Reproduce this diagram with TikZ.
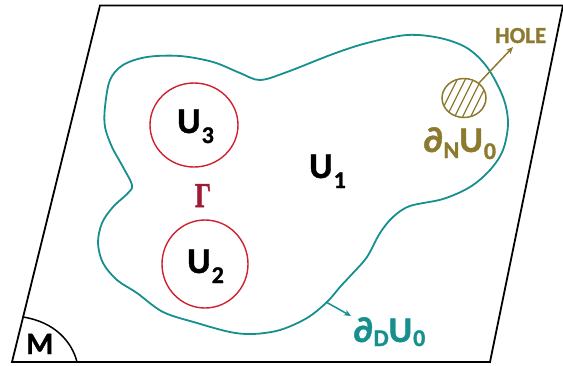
\documentclass[tikz,border=0pt]{standalone}
\usepackage{fontspec}
\setmainfont{Carlito}[BoldFeatures={FakeBold=1.2}]
\newfontfamily\gammafont{Liberation Serif}[BoldFeatures={FakeBold=1.5}]
\usetikzlibrary{arrows.meta,shapes.geometric}
\definecolor{tealc}{HTML}{16908F}
\definecolor{redc}{HTML}{D0202E}
\definecolor{goldc}{HTML}{8C7A2E}
\definecolor{gammac}{HTML}{9E1B32}
\newcommand{\mysub}[2][10pt]{\kern1pt\raisebox{-#1}{\fontsize{24}{24}\selectfont #2}}
\tikzset{
  lbl/.style={font=\fontsize{36}{36}\selectfont\bfseries, inner sep=0pt, anchor=base west},
  frame/.style={line width=1.8pt, line join=miter},
  region/.style={draw=redc, line width=1.4pt},
  boundary/.style={draw=tealc, line width=1.8pt},
  arr/.style={line width=1.5pt, -{Stealth[length=7pt,width=6pt]}},
}
\begin{document}
\begin{tikzpicture}[x=1pt,y=-1pt]
\useasboundingbox (0,0) rectangle (563,365);
% manifold frame
\draw[frame] (100,5.5) -- (563,5.5) -- (490,362) -- (12,362) -- cycle;
\draw[line width=1.5pt] (23,317) .. controls (55,322) and (72,342) .. (77,362);
\node[lbl, font=\fontsize{31}{31}\selectfont\bfseries] (M) at (26,354) {M};
% boundary of U0
\draw[boundary] plot[smooth cycle, tension=0.55] coordinates {
 (110,80) (123,65) (147,57) (180,56) (213,62) (240,73) (260,80) (287,72)
 (333,54) (367,43) (407,35) (440,38) (467,48) (487,67) (503,97) (508,123)
 (503,150) (490,170) (470,187) (443,199) (410,206) (393,217) (380,233)
 (367,257) (353,273) (340,287) (327,302) (307,318) (280,330) (253,334)
 (230,332) (197,323) (163,312) (137,293) (117,280) (103,263) (98,243)
 (102,223) (113,207) (128,193) (132,185) (123,167) (112,147) (105,127) (105,107)};
\coordinate (dstart) at (326,302);
% regions
\node[region, ellipse, minimum width=88pt, minimum height=84pt, inner sep=0pt] (c3) at (194,125) {};
\node[region, ellipse, minimum width=86pt, minimum height=88pt, inner sep=0pt] (c2) at (205,264) {};
\node[lbl] (U3) at (177,133) {U\mysub{3}};
\node[lbl] (U2) at (187,273) {U\mysub{2}};
\node[lbl] (U1) at (309,178) {U\mysub{1}};
\node[inner sep=0pt, anchor=base, text=gammac, font=\fontsize{35}{35}\selectfont\bfseries\gammafont] (G) at (203,207) {\scalebox{0.72}[1]{Γ}};
% hole
\begin{scope}
\clip (464,98) ellipse [x radius=22, y radius=19.5];
\foreach \i in {-48,-40,...,48}
  \draw[goldc, line width=1.3pt] (464+\i-12,122) -- (464+\i+12,74);
\end{scope}
\draw[goldc, line width=1.5pt] (464,98) ellipse [x radius=22, y radius=19.5];
\coordinate (holeedge) at (479,83);
\node[lbl, text=goldc, font=\fontsize{23}{23}\selectfont\bfseries] (HOLE) at (495,43) {HOLE};
\draw[arr, goldc] (holeedge) -- (513,47);
\node[lbl, text=goldc] (dN) at (423,152) {∂\mysub[6pt]{N}U\mysub[7pt]{0}};
% Dirichlet boundary label
\node[lbl, text=tealc] (dD) at (353,342) {∂\mysub[4pt]{D}U\mysub[4pt]{0}};
\draw[arr, tealc] (dstart) -- (351,316);
\end{tikzpicture}
\end{document}
